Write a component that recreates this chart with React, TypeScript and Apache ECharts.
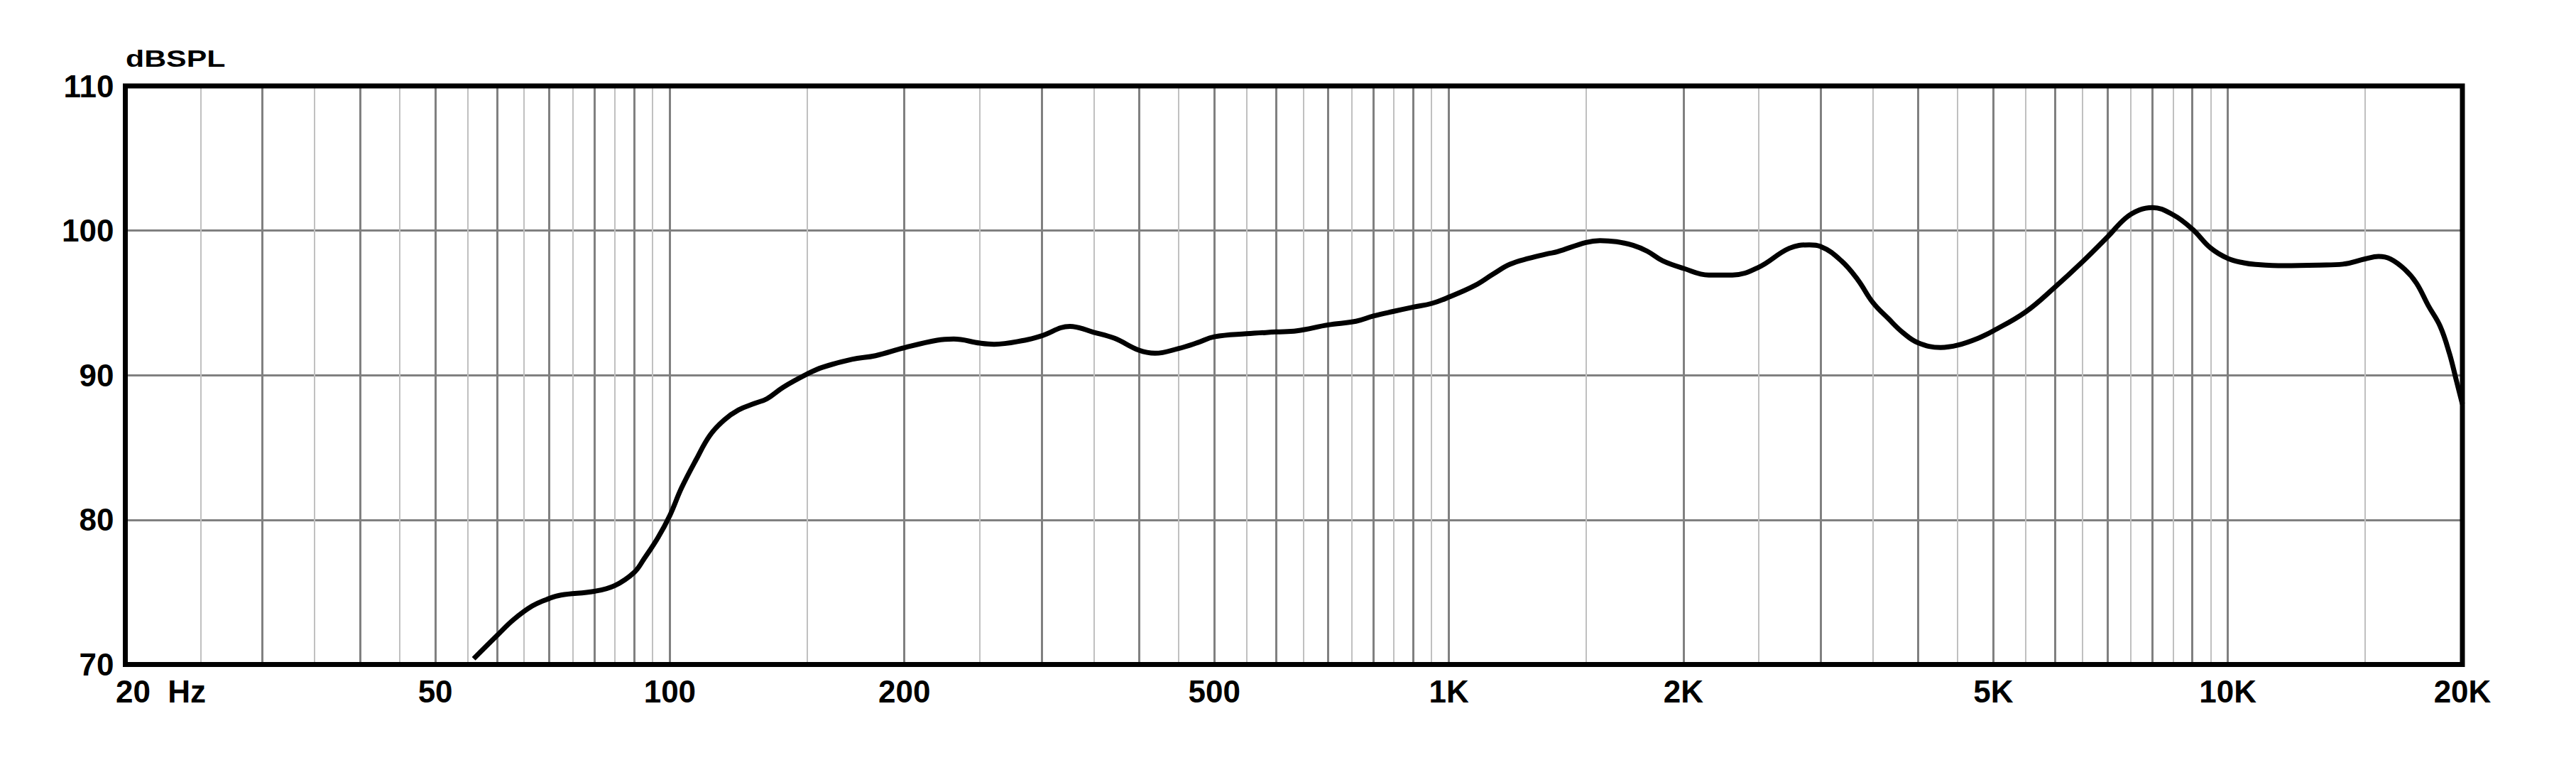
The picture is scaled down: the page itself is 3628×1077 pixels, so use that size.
import React, { useEffect, useRef } from 'react';
import * as echarts from 'echarts';

// Frequency response (Hz) and level (dB SPL)
const freq = [
  56, 60, 63, 66.6, 70, 72.5, 80, 85, 90, 92.6, 96.6, 100, 103.5, 108, 112.6, 117.4, 122.5,
  128.6, 133.2, 139.8, 150, 157, 171.3, 183.7, 200, 220.4, 231.4, 250, 260.7, 285.6, 300,
  326.3, 350, 372.4, 400, 419.6, 450, 475.8, 500, 550, 600, 638, 700, 760, 800, 850, 900,
  950, 1000, 1079, 1141, 1198, 1267, 1340, 1378, 1500, 1563, 1641, 1724, 1798, 1881, 2000,
  2156, 2312, 2500, 2734, 2902, 3000, 3190, 3349, 3500, 3668, 3826, 4000, 4278, 4500, 4786,
  5000, 5500, 6000, 6500, 7000, 7386, 7702, 8000, 8500, 9000, 9500, 10000, 10478, 10850,
  11800, 13106, 14056, 15000, 15612, 16168, 16860, 17460, 18080, 18726, 19254, 19660, 20000,
];
const spl = [
  70.4, 72.0, 73.1, 74.05, 74.56, 74.8, 75.06, 75.46, 76.37, 77.28, 78.79, 80.3, 82.2, 84.13,
  85.85, 86.9, 87.6, 88.06, 88.37, 89.17, 90.08, 90.55, 91.1, 91.35, 91.9, 92.42, 92.5, 92.22,
  92.14, 92.42, 92.72, 93.38, 92.97, 92.55, 91.73, 91.52, 91.85, 92.25, 92.66, 92.87, 92.99,
  93.07, 93.48, 93.73, 94.09, 94.42, 94.71, 94.96, 95.4, 96.19, 97.01, 97.67, 98.08, 98.4,
  98.54, 99.18, 99.31, 99.23, 98.98, 98.57, 97.91, 97.39, 96.93, 96.93, 97.47, 98.77, 99.01,
  98.9, 97.91, 96.6, 95.04, 93.9, 92.95, 92.25, 91.92, 92.08, 92.57, 93.07, 94.38, 96.1,
  97.82, 99.54, 100.85, 101.43, 101.59, 101.1, 100.11, 98.8, 98.07, 97.77, 97.66, 97.57,
  97.61, 97.68, 98.04, 98.21, 98.04, 97.33, 96.37, 94.82, 93.39, 91.48, 89.57, 88.0,
];

// Vertical grid lines
const darkGridFreqs = [
  30, 40, 50, 60, 70, 80, 90, 100, 200, 300, 400, 500, 600, 700, 800, 900, 1000, 2000, 3000,
  4000, 5000, 6000, 7000, 8000, 9000, 10000,
];
const lightGridFreqs = [
  25, 35, 45, 55, 65, 75, 85, 95, 150, 250, 350, 450, 550, 650, 750, 850, 950, 1500, 2500,
  3500, 4500, 5500, 6500, 7500, 8500, 9500, 15000,
];

// Tick labels
const xTickValues = [20, 50, 100, 200, 500, 1000, 2000, 5000, 10000, 20000];
const xTickLabels = ['20  Hz', '50', '100', '200', '500', '1K', '2K', '5K', '10K', '20K'];
const yMin = 70;
const yMax = 110;
const yStep = 10;
const yAxisTitle = 'dBSPL';

export default function App() {
  const ref = useRef<HTMLDivElement>(null);

  useEffect(() => {
    const chart = echarts.init(ref.current!, null, { renderer: 'svg' });
    const font = '"Liberation Sans", Arial, Helvetica, sans-serif';

    chart.setOption({
      animation: false,
      backgroundColor: '#ffffff',
      grid: {
        left: 176.5,
        top: 121,
        width: 3291.5,
        height: 814.5,
        show: true,
        borderColor: '#000000',
        borderWidth: 7,
        backgroundColor: 'transparent',
        z: 10,
      },
      xAxis: {
        type: 'log',
        logBase: 10,
        min: 20,
        max: 20000,
        axisLine: { show: false },
        axisTick: { show: false },
        axisLabel: { show: false },
        splitLine: { show: false },
        minorSplitLine: { show: false },
      },
      yAxis: {
        type: 'value',
        min: yMin,
        max: yMax,
        interval: yStep,
        axisLine: { show: false },
        axisTick: { show: false },
        axisLabel: {
          fontFamily: font,
          fontWeight: 'bold',
          fontSize: 44,
          color: '#000000',
          margin: 16,
        },
        splitLine: {
          show: true,
          showMinLine: false,
          showMaxLine: false,
          lineStyle: { color: '#808080', width: 3 },
        },
      },
      graphic: [
        {
          type: 'text',
          x: 177,
          y: 82,
          scaleX: 1.26,
          style: {
            text: yAxisTitle,
            font: `bold 34px ${font}`,
            fill: '#000000',
            align: 'left',
            verticalAlign: 'middle',
          },
        },
      ],
      series: [
        {
          type: 'line',
          data: [],
          silent: true,
          z: 1,
          markLine: {
            silent: true,
            symbol: 'none',
            label: { show: false },
            emphasis: { disabled: true },
            lineStyle: { color: '#c0c0c0', width: 2, type: 'solid' },
            data: lightGridFreqs.map((f) => ({ xAxis: f })),
          },
        },
        {
          type: 'line',
          data: [],
          silent: true,
          z: 1,
          markLine: {
            silent: true,
            symbol: 'none',
            label: { show: false },
            emphasis: { disabled: true },
            lineStyle: { color: '#808080', width: 3, type: 'solid' },
            data: darkGridFreqs.map((f) => ({ xAxis: f })),
          },
        },
        {
          type: 'line',
          data: [],
          silent: true,
          z: 1,
          markLine: {
            silent: true,
            symbol: 'none',
            emphasis: { disabled: true },
            lineStyle: { color: 'rgba(0,0,0,0)', width: 1, type: 'solid' },
            label: {
              show: true,
              position: 'start',
              distance: 16,
              fontFamily: font,
              fontWeight: 'bold',
              fontSize: 44,
              color: '#000000',
              opacity: 1,
            },
            data: xTickValues.map((v, i) => ({
              xAxis: v,
              label:
                i === 0
                  ? { formatter: xTickLabels[i], padding: [0, 0, 0, 100] }
                  : { formatter: xTickLabels[i] },
            })),
          },
        },
        {
          type: 'line',
          data: freq.map((f, i) => [f, spl[i]]),
          smooth: 0.4,
          symbol: 'none',
          silent: true,
          z: 5,
          lineStyle: { color: '#000000', width: 7 },
        },
      ],
    });

    return () => chart.dispose();
  }, []);

  return (
    <div
      ref={ref}
      style={{ position: 'absolute', left: 0, top: 0, width: 3628, height: 1077, background: '#ffffff' }}
    />
  );
}
